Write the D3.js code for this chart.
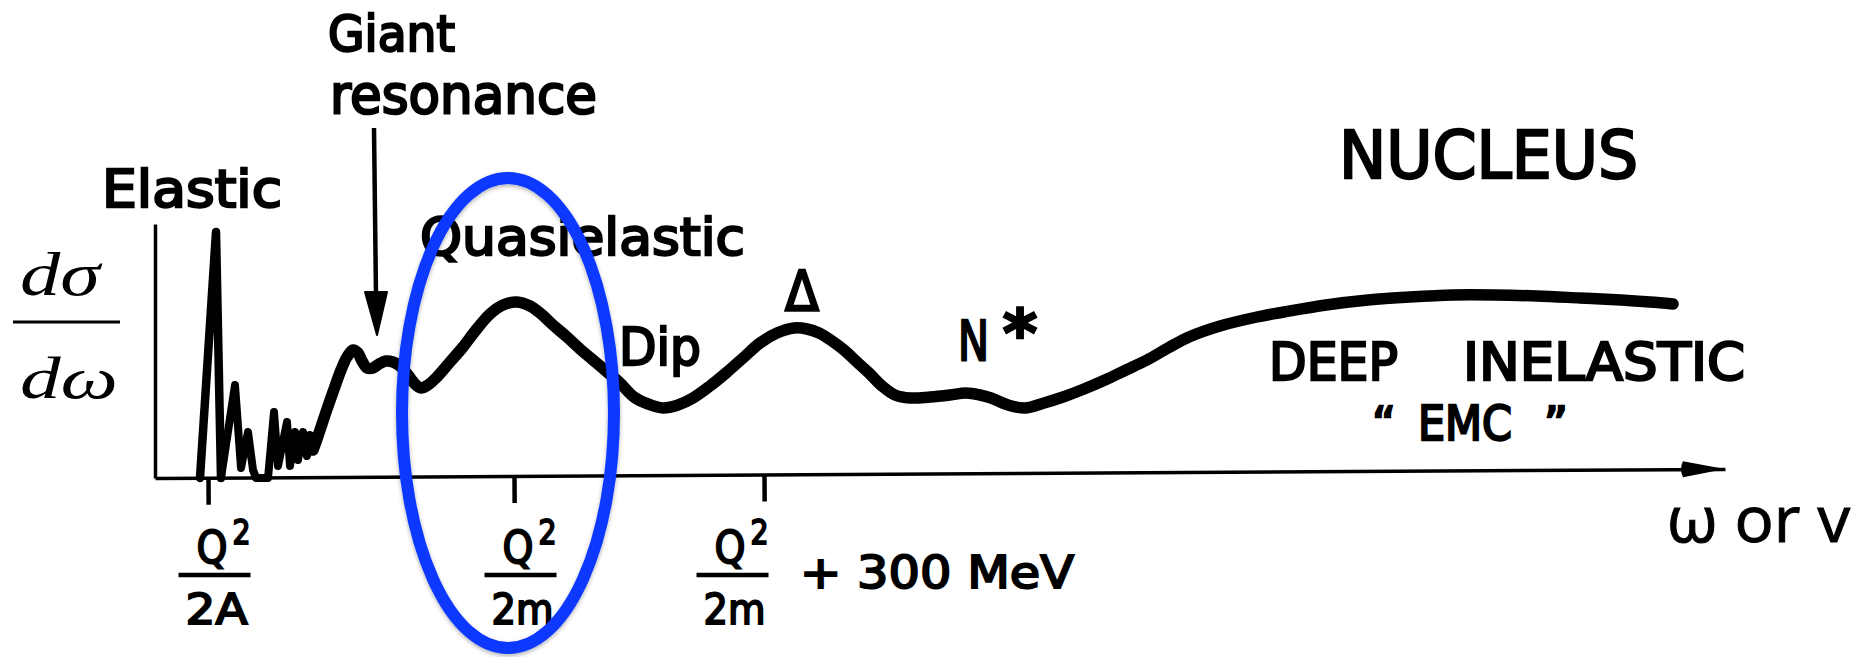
<!DOCTYPE html>
<html><head><meta charset="utf-8">
<script src="https://cdn.jsdelivr.net/npm/d3@7"></script>
<style>html,body{margin:0;padding:0;background:#fff;} svg{display:block;background:#fff}</style>
</head><body>
<svg id="chart" width="1860" height="657"></svg>
<script>
// ---- data (arbitrary units: omega, dsigma/domega) ----
const elasticPeak = [[45,0],[61,246],[66,0]];
const nuclearLevels = [[66,0],[80,93],[86,10],[93,46],[98,8],[101,0],[113,0],[119,66],[123,12],[132,56],[135,12],[140,46],[143,18],[148,46],[152,22],[155,43],[158,28]];
const continuum = [[158,28],[163,42],[170,63],[178,86],[186,108],[192,121],[198,128],[203,125],[207,117],[212,110],[218,110],[224,114],[231,117],[238,116],[245,112],[253,103],[260,94],[266,90],[273,93],[281,100],[295,116],[308,131],[321,148],[335,164],[348,173],[362,176],[375,172],[385,165],[398,153],[412,141],[425,129],[438,118],[451,107],[465,95],[479,81],[493,74],[508,70],[523,73],[538,80],[555,92],[571,105],[588,120],[605,135],[622,145],[639,150],[652,149],[664,145],[677,137],[689,128],[702,116],[714,105],[727,92],[740,83],[755,80],[775,81],[795,83],[811,85],[825,83],[836,80],[853,73],[870,70],[889,75],[908,81],[929,89],[950,98],[971,108],[992,118],[1013,130],[1034,141],[1065,152],[1102,161],[1129,166],[1171,173],[1213,178],[1255,181],[1298,183],[1340,183],[1382,182],[1425,180],[1466,178],[1495,176],[1518,174]];
const tickValues = [53, 359, 609];
const tickNumerators = ["Q", "Q", "Q"];
const tickDenominators = ["2A", "2m", "2m"];
const tickSuffixes = ["", "", "+ 300 MeV"];
const tickFracCenters = [59.5, 365.5, 577.5];
const xDomain = [0, 1570];
const yDomain = [0, 254];

// ---- layout ----
const svg = d3.select("#chart");
const x = d3.scaleLinear().domain(xDomain).range([155, 1725]);
const y = d3.scaleLinear().domain(yDomain).range([478, 224]);
const DIN = "'DejaVu Sans', 'Liberation Sans', sans-serif";

// y axis
const yAxisG = svg.append("g").attr("transform", `translate(${x(0)},0)`)
  .call(d3.axisLeft(y).tickValues([]).tickSizeOuter(0));
yAxisG.select(".domain").attr("stroke", "#000").attr("stroke-width", 3.5);

// x axis (slightly tilted as in the scan)
const xAxisG = svg.append("g").attr("transform", `translate(0,${y(0)}) rotate(-0.33,${x(0)},0)`)
  .call(d3.axisBottom(x).tickValues(tickValues).tickSize(27).tickSizeOuter(0).tickFormat(""));
xAxisG.select(".domain").attr("stroke", "#000").attr("stroke-width", 3.5);
xAxisG.selectAll(".tick line").attr("stroke", "#000").attr("stroke-width", 4.5);
xAxisG.append("path")
  .attr("d", `M${x(xDomain[1])},0 L${x(xDomain[1]) - 42},-8 Q${x(xDomain[1]) - 46},0 ${x(xDomain[1]) - 42},8 Z`)
  .attr("fill", "#000");

// curves
const lineLin = d3.line().x(d => x(d[0])).y(d => y(d[1]));
const lineSmooth = d3.line().x(d => x(d[0])).y(d => y(d[1])).curve(d3.curveCatmullRom.alpha(0.5));
svg.append("path").attr("d", lineLin(elasticPeak)).attr("fill", "none").attr("stroke", "#000")
  .attr("stroke-width", 8.5).attr("stroke-linejoin", "round").attr("stroke-linecap", "round");
svg.append("path").attr("d", lineLin(nuclearLevels)).attr("fill", "none").attr("stroke", "#000")
  .attr("stroke-width", 8).attr("stroke-linejoin", "round").attr("stroke-linecap", "round");
svg.append("path").attr("d", lineSmooth(continuum)).attr("fill", "none").attr("stroke", "#000")
  .attr("stroke-width", 11.5).attr("stroke-linejoin", "round").attr("stroke-linecap", "round");

// tick labels (fractions)
const tl = svg.append("g").attr("font-family", DIN).attr("fill", "#000")
  .attr("stroke", "#000").attr("stroke-width", 2);
tickValues.forEach((v, i) => {
  const cx = x(tickFracCenters[i]);
  const y0 = y(0);
  tl.append("text").attr("x", cx - 18).attr("y", y0 + 85)
    .attr("font-size", 45).attr("textLength", 31).attr("lengthAdjust", "spacingAndGlyphs").text(tickNumerators[i]);
  tl.append("text").attr("x", cx + 18).attr("y", y0 + 66).attr("font-size", 33)
    .attr("textLength", 18).attr("lengthAdjust", "spacingAndGlyphs").text("2");
  tl.append("line").attr("x1", cx - 36).attr("x2", cx + 36).attr("y1", y0 + 97).attr("y2", y0 + 97)
    .attr("stroke", "#000").attr("stroke-width", 4.5);
  tl.append("text").attr("x", cx - 29).attr("y", y0 + 146)
    .attr("font-size", 42).attr("textLength", 62).attr("lengthAdjust", "spacingAndGlyphs").text(tickDenominators[i]);
  if (tickSuffixes[i]) {
    tl.append("text").attr("x", cx + 67.5).attr("y", y0 + 110).attr("font-size", 45)
      .attr("textLength", 274).attr("lengthAdjust", "spacingAndGlyphs").text(tickSuffixes[i]);
  }
});

// y label  dσ / dω
const yl = svg.append("g").attr("font-family", "'Liberation Serif', 'DejaVu Serif', serif")
  .attr("font-style", "italic").attr("fill", "#000");
yl.append("text").attr("x", 20).attr("y", 295).attr("font-size", 62)
  .attr("textLength", 80).attr("lengthAdjust", "spacingAndGlyphs").text("dσ");
yl.append("line").attr("x1", 13).attr("x2", 120).attr("y1", 322).attr("y2", 322)
  .attr("stroke", "#000").attr("stroke-width", 3);
yl.append("text").attr("x", 20).attr("y", 398).attr("font-size", 60)
  .attr("textLength", 98).attr("lengthAdjust", "spacingAndGlyphs").text("dω");

// annotation labels: text, then layout in data units
const annotationTexts = ["Elastic", "Giant", "resonance", "Quasielastic", "Dip", "Δ", "N", "*",
  "NUCLEUS", "DEEP", "INELASTIC", "\u201C", "EMC", "\u201D"];
const annotationLayout = {
  "Elastic": [-53, 271, 51, 180],
  "Giant": [173, 427, 50, 127],
  "resonance": [175, 365, 53, 267],
  "Quasielastic": [265, 223, 52, 325],
  "Dip": [464, 113, 52, 82],
  "Δ": [630, 168, 55, 34],
  "N": [803, 118, 55, 31],
  "*": [865, 122, 66, 0],
  "NUCLEUS": [1184, 300, 66, 299],
  "DEEP": [1114, 98, 52, 129],
  "INELASTIC": [1308, 98, 52, 282],
  "\u201C": [1217, 38, 46, 0],
  "EMC": [1263, 38, 48, 94],
  "\u201D": [1389, 38, 46, 0]
};
const al = svg.append("g").attr("font-family", DIN).attr("fill", "#000")
  .attr("stroke", "#000").attr("stroke-width", 2.4);
annotationTexts.forEach(t => {
  const [ax, ay, fs, len] = annotationLayout[t];
  const el = al.append("text").attr("x", x(ax)).attr("y", y(ay)).attr("font-size", fs).text(t);
  if (t === "*") el.attr("text-anchor", "middle").attr("font-weight", "bold");
  if (len) el.attr("textLength", len).attr("lengthAdjust", "spacingAndGlyphs");
});

// axis title
svg.append("text").attr("x", x(1512)).attr("y", y(-64))
  .attr("font-family", "'Open Sans', 'DejaVu Sans', sans-serif").attr("font-size", 64)
  .attr("stroke", "#000").attr("stroke-width", 1)
  .attr("textLength", 183).attr("lengthAdjust", "spacingAndGlyphs").attr("fill", "#000")
  .text("ω or v");

// giant-resonance arrow
const arrowTail = [219, 350], arrowHeadBase = [221, 186], arrowTip = [222, 143];
svg.append("line").attr("x1", x(arrowTail[0])).attr("y1", y(arrowTail[1]))
  .attr("x2", x(arrowHeadBase[0])).attr("y2", y(arrowHeadBase[1]) + 4)
  .attr("stroke", "#000").attr("stroke-width", 4.5);
svg.append("path")
  .attr("d", `M${x(arrowHeadBase[0]) - 11},${y(arrowHeadBase[1])} L${x(arrowHeadBase[0]) + 11},${y(arrowHeadBase[1])} L${x(arrowTip[0])},${y(arrowTip[1])} Z`)
  .attr("fill", "#000").attr("stroke", "#000").attr("stroke-width", 2).attr("stroke-linejoin", "round");

// blue highlight ellipse around the quasielastic peak
const defs = svg.append("defs");
const f = defs.append("filter").attr("id", "sh").attr("x", "-20%").attr("y", "-20%").attr("width", "140%").attr("height", "140%");
f.append("feDropShadow").attr("dx", 0).attr("dy", 2).attr("stdDeviation", 2).attr("flood-color", "#000").attr("flood-opacity", 0.3);
const ellC = [353, 65], ellR = [106, 235];
svg.append("ellipse").attr("cx", x(ellC[0])).attr("cy", y(ellC[1]))
  .attr("rx", x(ellC[0] + ellR[0]) - x(ellC[0])).attr("ry", y(ellC[1]) - y(ellC[1] + ellR[1]))
  .attr("fill", "none").attr("stroke", "#0a38ff").attr("stroke-width", 12).attr("filter", "url(#sh)");
</script>
</body></html>
